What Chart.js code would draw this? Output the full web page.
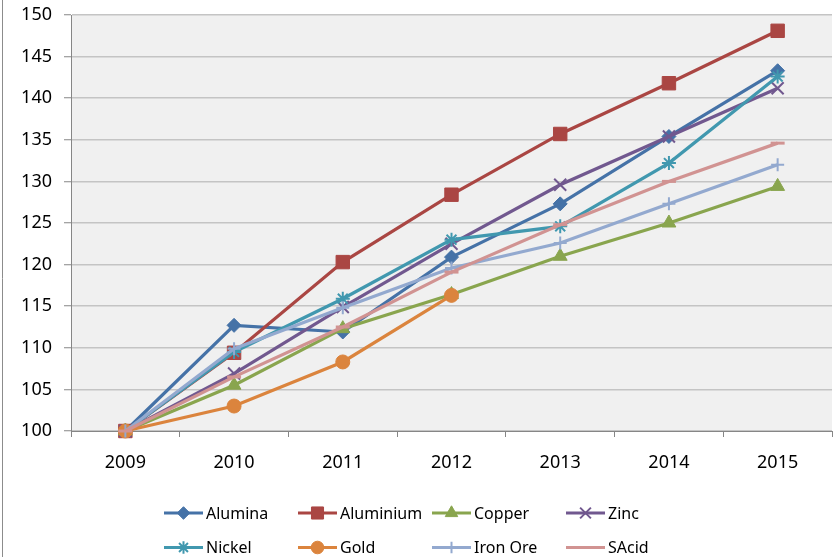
<!DOCTYPE html>
<html lang="en">
<head>
<meta charset="UTF-8">
<title>Metals index</title>
<script src="https://cdn.jsdelivr.net/npm/chart.js"></script>
<style>
  html, body { margin: 0; padding: 0; background: #fff; }
  #wrap { width: 835px; height: 557px; position: relative; }
</style>
</head>
<body>
<div id="wrap"><canvas id="metals_chart" width="835" height="557"></canvas></div>
<script>
  // categories
  var years = ['2009', '2010', '2011', '2012', '2013', '2014', '2015'];

  // series values (index, 2009 = 100)
  var alumina   = [100, 112.7, 111.9, 120.9, 127.3, 135.4, 143.3];
  var aluminium = [100, 109.4, 120.3, 128.4, 135.7, 141.8, 148.1];
  var copper    = [100, 105.5, 112.3, 116.4, 121.0, 125.0, 129.4];
  var zinc      = [100, 106.9, 114.9, 122.5, 129.6, 135.4, 141.2];
  var nickel    = [100, 109.5, 115.9, 123.0, 124.6, 132.2, 142.6];
  var gold      = [100, 103.0, 108.3, 116.3, null, null, null];
  var ironOre   = [100, 109.9, 114.8, 119.6, 122.6, 127.3, 132.0];
  var sAcid     = [100, 106.5, 112.5, 119.1, 124.8, 130.0, 134.6];

  // y axis ticks
  var yMin = 100, yMax = 150, yStep = 5;

  var seriesNames = ['Alumina', 'Aluminium', 'Copper', 'Zinc', 'Nickel', 'Gold', 'Iron Ore', 'SAcid'];
  var seriesData  = [alumina, aluminium, copper, zinc, nickel, gold, ironOre, sAcid];
  var seriesColors = ['#4572A7', '#AA4643', '#89A54E', '#71588F', '#4198AF', '#DB843D', '#93A9CF', '#D19392'];
  var seriesMarkers = ['rectRot', 'rect', 'triangle', 'crossRot', 'star', 'circle', 'cross', 'line'];
  var markerSizes = [7, 9.5, 8, 8.5, 7, 7, 6.5, 7];
  var markerWidths = [1, 1, 1, 2, 2, 1, 2, 3];

  var FONT = '"Noto Sans", sans-serif';

  var datasets = [];
  for (var i = 0; i < seriesNames.length; i++) {
    datasets.push({
      label: seriesNames[i],
      data: seriesData[i],
      borderColor: seriesColors[i],
      backgroundColor: seriesColors[i],
      borderWidth: 3.2,
      pointStyle: seriesMarkers[i],
      pointRadius: markerSizes[i],
      pointHoverRadius: markerSizes[i],
      pointBorderWidth: markerWidths[i],
      pointBorderColor: seriesColors[i],
      pointBackgroundColor: seriesColors[i],
      tension: 0,
      spanGaps: false,
      order: seriesNames.length - i,
      clip: false
    });
  }

  // plot area background + left frame line
  var backdrop = {
    id: 'backdrop',
    beforeDraw: function(chart) {
      var ctx = chart.ctx, a = chart.chartArea;
      ctx.save();
      ctx.fillStyle = '#F0F0F0';
      ctx.fillRect(a.left, a.top, a.right - a.left, a.bottom - a.top);
      ctx.strokeStyle = '#8C8C8C';
      ctx.lineWidth = 1;
      ctx.beginPath();
      ctx.moveTo(2.5, 0);
      ctx.lineTo(2.5, chart.height);
      ctx.stroke();
      ctx.restore();
    }
  };

  // excel style legend, 4 columns x 2 rows
  var excelLegend = {
    id: 'excelLegend',
    afterDraw: function(chart) {
      var ctx = chart.ctx;
      ctx.save();
      ctx.font = '16px ' + FONT;
      ctx.textBaseline = 'middle';
      ctx.fillStyle = '#000';
      chart.data.datasets.forEach(function(ds, i) {
        var col = i % 4, row = Math.floor(i / 4);
        var x0 = 164 + col * 134;
        var y = 513 + row * 34.5;
        ctx.strokeStyle = ds.borderColor;
        ctx.lineWidth = 3.2;
        ctx.beginPath();
        ctx.moveTo(x0, y);
        ctx.lineTo(x0 + 39, y);
        ctx.stroke();
        ctx.fillStyle = ds.backgroundColor;
        ctx.lineWidth = ds.pointBorderWidth;
        Chart.helpers.drawPoint(ctx, {
          pointStyle: ds.pointStyle,
          radius: ds.pointRadius * 0.9,
          rotation: 0,
          borderWidth: ds.pointBorderWidth
        }, x0 + 19.5, y);
        ctx.fillStyle = '#000';
        ctx.fillText(ds.label, x0 + 42, y + 1);
      });
      ctx.restore();
    }
  };

  new Chart(document.getElementById('metals_chart'), {
    type: 'line',
    data: { labels: years, datasets: datasets },
    plugins: [backdrop, excelLegend],
    options: {
      responsive: false,
      animation: false,
      events: [],
      layout: { autoPadding: false, padding: { left: 0, top: 15, right: 3, bottom: 0 } },
      plugins: {
        legend: { display: false },
        tooltip: { enabled: false },
        title: { display: false }
      },
      scales: {
        x: {
          type: 'category',
          offset: true,
          afterFit: function(scale) {
            scale.height = 126;
            scale.paddingLeft = 0;
            scale.paddingRight = 0;
          },
          grid: {
            offset: true,
            drawOnChartArea: false,
            drawTicks: true,
            tickLength: 6,
            tickColor: '#868686',
            tickWidth: 1
          },
          border: { display: true, color: '#868686', width: 1 },
          ticks: {
            color: '#000',
            font: { family: FONT, size: 18 },
            padding: 15,
            maxRotation: 0,
            autoSkip: false
          }
        },
        y: {
          min: yMin,
          max: yMax,
          afterFit: function(scale) {
            scale.width = 71;
            scale.paddingTop = 0;
            scale.paddingBottom = 0;
          },
          grid: {
            color: '#C4C4C4',
            lineWidth: 1.5,
            borderDash: [6, 5],
            drawTicks: true,
            tickLength: 7,
            tickColor: '#868686',
            tickBorderDash: [],
            tickWidth: 1
          },
          border: { display: true, color: '#868686', width: 1 },
          ticks: {
            stepSize: yStep,
            color: '#000',
            font: { family: FONT, size: 18 },
            padding: 12
          }
        }
      }
    }
  });
</script>
</body>
</html>
